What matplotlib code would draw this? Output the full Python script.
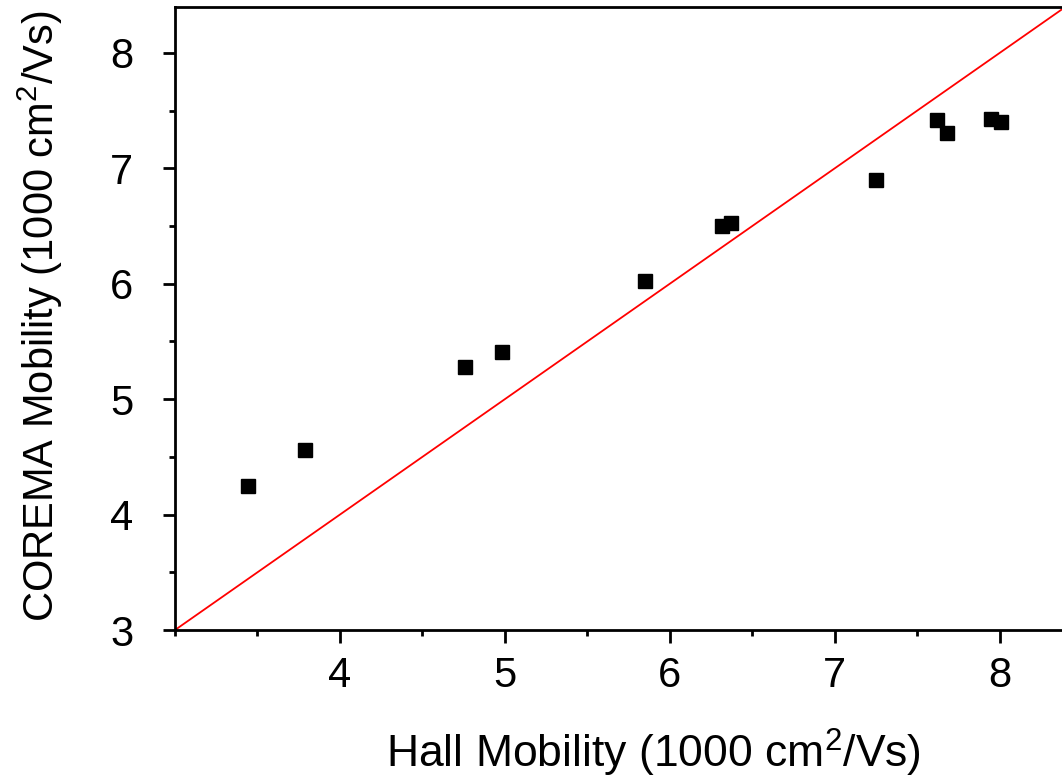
import numpy as np
import matplotlib
matplotlib.use("Agg")
import matplotlib.pyplot as plt
from matplotlib.ticker import MultipleLocator

plt.rcParams['font.family'] = ['Liberation Sans', 'DejaVu Sans']
plt.rcParams['mathtext.fontset'] = 'custom'
plt.rcParams['mathtext.rm'] = 'Liberation Sans'
plt.rcParams['mathtext.default'] = 'regular'

# Hall vs COREMA mobility (1000 cm^2/Vs)
hall = [3.44, 3.79, 4.76, 4.98, 5.85, 6.32, 6.37, 7.25, 7.62, 7.68, 7.95, 8.01]
corema = [4.25, 4.56, 5.28, 5.41, 6.02, 6.50, 6.53, 6.90, 7.42, 7.31, 7.43, 7.40]
x_ticks = [4, 5, 6, 7, 8]
y_ticks = [3, 4, 5, 6, 7, 8]

fig = plt.figure(figsize=(10.62, 7.79), dpi=100)
ax = fig.add_axes([175 / 1062, 149 / 779, 907 / 1062, 623 / 779])

# y = x reference line
ref = np.array([3.0, 8.6])
ax.plot(ref, ref, color='red', lw=1.3, zorder=2)
ax.plot(hall, corema, 's', color='black', ms=9.5, mec='black', zorder=3)

ax.set_xlim(3, 8.5)
ax.set_ylim(3, 3 + 623 / 115.4)
ax.set_xticks(x_ticks)
ax.set_yticks(y_ticks)
ax.xaxis.set_minor_locator(MultipleLocator(0.5))
ax.yaxis.set_minor_locator(MultipleLocator(0.5))
ax.tick_params(which='major', direction='out', length=9, width=2, labelsize=30)
ax.tick_params(axis='x', which='major', pad=10)
ax.tick_params(axis='y', which='major', pad=21)
ax.tick_params(which='minor', direction='out', length=4.5, width=2)
for s in ['left', 'bottom', 'top']:
    ax.spines[s].set_linewidth(2)
ax.spines['right'].set_visible(False)

fig.text(653 / 1062, 1 - 768 / 779, 'Hall Mobility (1000 cm$^2$/Vs)', fontsize=32,
         ha='center', va='baseline')
fig.text(40 / 1062, 1 - 316 / 779, 'COREMA Mobility (1000 cm$^2$/Vs)', fontsize=30,
         ha='center', va='center', rotation=90)

fig.savefig('out.png', dpi=100)
